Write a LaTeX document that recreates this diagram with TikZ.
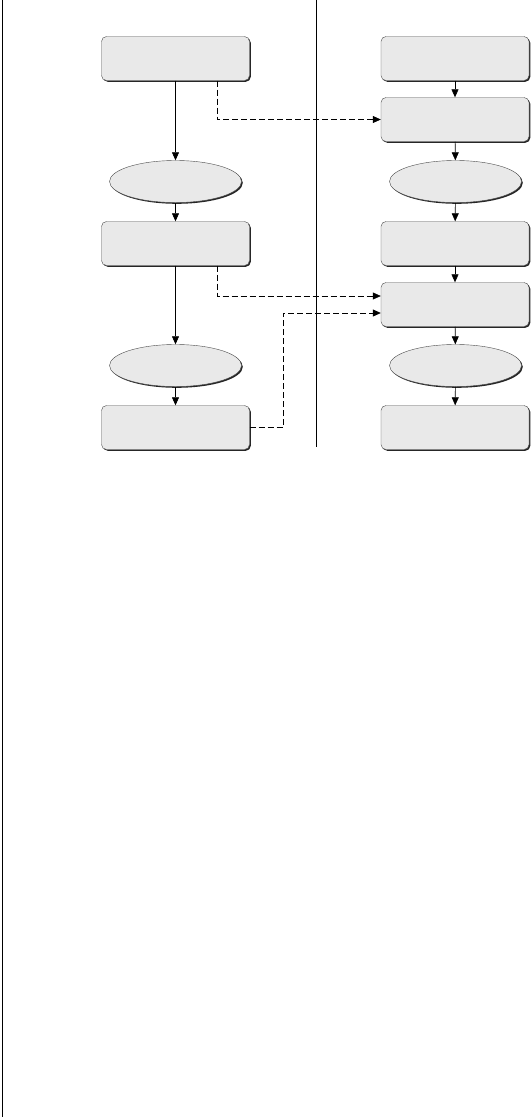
\documentclass[tikz,border=0pt]{standalone}
\usetikzlibrary{shapes.geometric,shadows,arrows.meta}
\tikzset{
  boxshade/.style={drop shadow={shadow xshift=1.3pt, shadow yshift=-1.3pt, fill=black!85, opacity=1}},
  stepbox/.style={draw=black!70, fill=gray!17, rounded corners=5pt, minimum width=148pt, minimum height=44pt, inner sep=0pt, boxshade},
  stepoval/.style={ellipse, draw=black!70, fill=gray!17, minimum width=132pt, minimum height=42pt, inner sep=0pt, boxshade},
  flow/.style={-{Triangle[length=8pt,width=7pt]}, semithick},
  link/.style={flow, dash pattern=on 6pt off 3pt}
}
\begin{document}
\begin{tikzpicture}[x=1pt,y=-1pt]
  \useasboundingbox (0,0) rectangle (531,1117);
  \draw[thick] (2,0) -- (2,1117);
  \draw[semithick] (316,0) -- (316,447);
  % left column
  \node[stepbox] (l1) at (175.5,58.5) {};
  \node[stepoval] (o1) at (175.5,181.5) {};
  \node[stepbox] (l2) at (175.5,243.5) {};
  \node[stepoval] (o2) at (175.5,365.5) {};
  \node[stepbox] (l3) at (175.5,427.5) {};
  % right column
  \node[stepbox] (r1) at (455,58.5) {};
  \node[stepbox] (r2) at (455,119.5) {};
  \node[stepoval] (q1) at (455.5,181.5) {};
  \node[stepbox] (r3) at (455,243.5) {};
  \node[stepbox] (r4) at (455,304.5) {};
  \node[stepoval] (q2) at (455.5,365.5) {};
  \node[stepbox] (r5) at (455,427.5) {};
  \foreach \a/\b in {l1/o1,o1/l2,l2/o2,o2/l3,r1/r2,r2/q1,q1/r3,r3/r4,r4/q2,q2/r5}
    \draw[flow] (\a) -- (\b);
  % cross links
  \draw[link] ([xshift=41.5pt]l1.south) |- (r2.west);
  \draw[link] ([xshift=41.5pt]l2.south) |- ([yshift=8.5pt]r4.west);
  \draw[link, thick] (l3.east) -- ++(33.5,0) |- ([yshift=-8.5pt]r4.west);
\end{tikzpicture}
\end{document}
